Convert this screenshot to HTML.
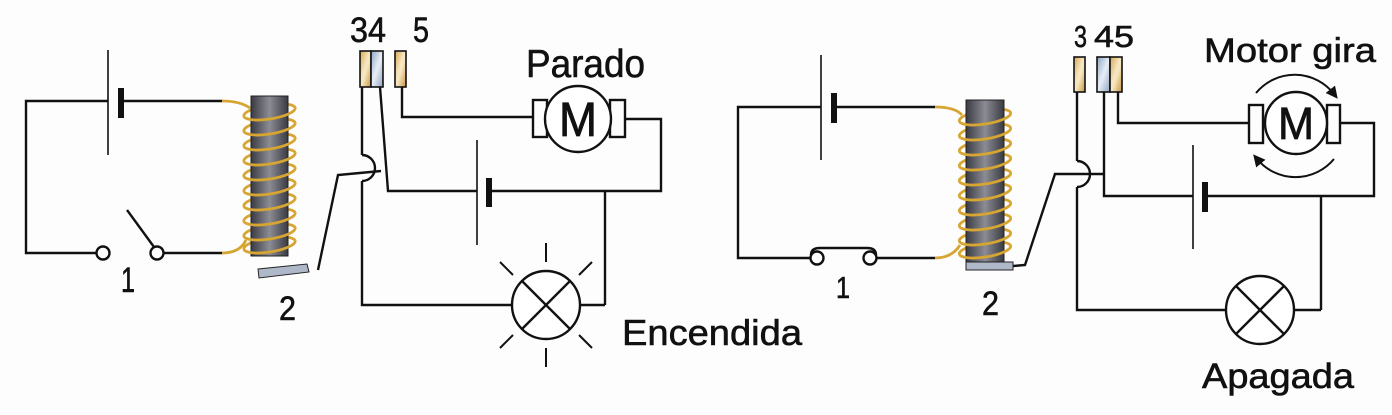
<!DOCTYPE html>
<html><head><meta charset="utf-8"><style>
html,body{margin:0;padding:0;background:#fdfdfd;}
svg{display:block}
text{font-family:"Liberation Sans",sans-serif;fill:#111;}
</style></head><body>
<svg width="1392" height="415" viewBox="0 0 1392 415" xmlns="http://www.w3.org/2000/svg">
<defs>
<linearGradient id="core" x1="0" x2="1" y1="0" y2="0">
<stop offset="0" stop-color="#3a3a42"/><stop offset="0.5" stop-color="#8c8c94"/><stop offset="1" stop-color="#3a3a42"/>
</linearGradient>
<linearGradient id="gold" x1="0" x2="1" y1="0" y2="1">
<stop offset="0" stop-color="#d9a650"/><stop offset="0.45" stop-color="#f6e6c0"/><stop offset="0.55" stop-color="#f6e6c0"/><stop offset="1" stop-color="#c89440"/>
</linearGradient>
<linearGradient id="blue" x1="0" x2="1" y1="0" y2="1">
<stop offset="0" stop-color="#8ea4c0"/><stop offset="0.5" stop-color="#e8eef6"/><stop offset="1" stop-color="#8ea4c0"/>
</linearGradient>
<g id="back"><path d="M -26 0 A 26 7 0 0 1 26 0" fill="none" stroke="#d6a532" stroke-width="2.8" transform="rotate(-9)"/></g>
<g id="front"><path d="M -26 0 A 26 7 0 0 0 26 0" fill="none" stroke="#d6a532" stroke-width="2.8" transform="rotate(-9)"/></g>
<marker id="ah" markerWidth="12" markerHeight="12" refX="6" refY="6" orient="auto" markerUnits="userSpaceOnUse">
<path d="M0 0 L12 6 L0 12 Z" fill="#111"/></marker>
</defs>

<g stroke="#111" stroke-width="2.4" fill="none">
<!-- LEFT DIAGRAM -->
<polyline points="108,101 26,101 26,253 96,253"/>
<line x1="108" y1="50" x2="108" y2="155" stroke-width="1.6"/>
<line x1="120" y1="101" x2="222" y2="101"/>
<line x1="164" y1="253" x2="222" y2="253"/>
<circle cx="103" cy="253" r="6.5" fill="#fff"/>
<circle cx="157" cy="253" r="6.5" fill="#fff"/>
<line x1="154" y1="247" x2="127" y2="210"/>
<polyline points="318,270 338,175 381,171"/>
<polyline points="362,87 362,155"/>
<path d="M362 155 A13 13 0 0 1 362 181"/>
<polyline points="362,181 362,305 512,305"/>
<polyline points="380,87 388,191 477,191"/>
<line x1="477" y1="140" x2="477" y2="245" stroke-width="1.6"/>
<polyline points="490,191 661,191 661,119 625,119"/>
<polyline points="402,87 402,117 533,117"/>
<line x1="605" y1="191" x2="605" y2="305"/>
<line x1="605" y1="305" x2="580" y2="305"/>
<rect x="533" y="100" width="14" height="37"/>
<rect x="610" y="100" width="15" height="37"/>
<circle cx="578" cy="119" r="33" fill="#fff"/>
<circle cx="546" cy="305" r="34" fill="#fff"/>
<line x1="522" y1="281" x2="570" y2="329"/><line x1="570" y1="281" x2="522" y2="329"/>
<g stroke-width="2">
<line x1="546" y1="243" x2="546" y2="262"/><line x1="546" y1="348" x2="546" y2="367"/>
<line x1="500" y1="262" x2="513" y2="275"/><line x1="592" y1="262" x2="579" y2="275"/>
<line x1="500" y1="348" x2="513" y2="335"/><line x1="592" y1="348" x2="579" y2="335"/>
</g>

<!-- RIGHT DIAGRAM -->
<polyline points="821,107 738,107 738,258 810,258"/>
<line x1="821" y1="55" x2="821" y2="160" stroke-width="1.6"/>
<line x1="834" y1="107" x2="935" y2="107"/>
<line x1="877" y1="258" x2="935" y2="258"/>
<circle cx="817" cy="258" r="6.5" fill="#fff"/>
<circle cx="870" cy="258" r="6.5" fill="#fff"/>
<path d="M811 255 Q 811 248 820 248 L 867 248 Q 876 248 876 255"/>
<polyline points="1013,266 1025,265 1055,174 1104,174"/>
<polyline points="1077,92 1077,161"/>
<path d="M1077 161 A13 13 0 0 1 1077 187"/>
<polyline points="1077,187 1077,310 1226,310"/>
<polyline points="1104,92 1104,196 1193,196"/>
<line x1="1193" y1="145" x2="1193" y2="249" stroke-width="1.6"/>
<polyline points="1206,196 1374,196 1374,123 1340,123"/>
<polyline points="1118,92 1118,123 1249,123"/>
<line x1="1321" y1="196" x2="1321" y2="310"/>
<line x1="1321" y1="310" x2="1294" y2="310"/>
<rect x="1249" y="105" width="14" height="38"/>
<rect x="1327" y="105" width="13" height="38"/>
<circle cx="1296" cy="123" r="31" fill="#fff"/>
<path d="M1256 93 A50 50 0 0 1 1334 94" stroke-width="2" marker-end="url(#ah)"/>
<path d="M1334 159 A50 50 0 0 1 1257 159" stroke-width="2" marker-end="url(#ah)"/>
<circle cx="1260" cy="310" r="34" fill="#fff"/>
<line x1="1236" y1="286" x2="1284" y2="334"/><line x1="1284" y1="286" x2="1236" y2="334"/>
</g>

<rect x="118" y="88" width="6" height="30" fill="#111"/>
<rect x="486" y="178" width="6" height="29" fill="#111"/>
<rect x="831" y="93" width="6" height="30" fill="#111"/>
<rect x="1202" y="182" width="6" height="30" fill="#111"/>

<!-- LEFT COIL -->
<path d="M222 101 Q240 101 250 108" stroke="#d6a532" stroke-width="2.8" fill="none"/>
<path d="M222 253 Q240 253 246 240" stroke="#d6a532" stroke-width="2.8" fill="none"/>
<g transform="translate(269.5,0)">
<use href="#back" y="112"/><use href="#back" y="127"/><use href="#back" y="142"/><use href="#back" y="157"/><use href="#back" y="172"/><use href="#back" y="187"/><use href="#back" y="202"/><use href="#back" y="217"/><use href="#back" y="232"/><use href="#back" y="245"/>
</g>
<rect x="251" y="96" width="37" height="160" fill="url(#core)" stroke="#222" stroke-width="1"/>
<g transform="translate(269.5,0)">
<use href="#front" y="112"/><use href="#front" y="127"/><use href="#front" y="142"/><use href="#front" y="157"/><use href="#front" y="172"/><use href="#front" y="187"/><use href="#front" y="202"/><use href="#front" y="217"/><use href="#front" y="232"/><use href="#front" y="245"/>
</g>
<polygon points="258,269 307,264 309,272 259,278" fill="#aeb8c8" stroke="#222" stroke-width="1"/>

<!-- RIGHT COIL -->
<path d="M935 107 Q955 107 962 115" stroke="#d6a532" stroke-width="2.8" fill="none"/>
<path d="M935 258 Q952 258 960 245" stroke="#d6a532" stroke-width="2.8" fill="none"/>
<g transform="translate(985,0)">
<use href="#back" y="117"/><use href="#back" y="132"/><use href="#back" y="147"/><use href="#back" y="162"/><use href="#back" y="177"/><use href="#back" y="192"/><use href="#back" y="207"/><use href="#back" y="222"/><use href="#back" y="237"/><use href="#back" y="250"/>
</g>
<rect x="966" y="100" width="38" height="162" fill="url(#core)" stroke="#222" stroke-width="1"/>
<g transform="translate(985,0)">
<use href="#front" y="117"/><use href="#front" y="132"/><use href="#front" y="147"/><use href="#front" y="162"/><use href="#front" y="177"/><use href="#front" y="192"/><use href="#front" y="207"/><use href="#front" y="222"/><use href="#front" y="237"/><use href="#front" y="250"/>
</g>
<rect x="966" y="262" width="47" height="8" fill="#aeb8c8" stroke="#222" stroke-width="1"/>

<g stroke="#111" stroke-width="1.6">
<rect x="360" y="51" width="11" height="36" fill="url(#gold)"/>
<rect x="371" y="51" width="12" height="36" fill="url(#blue)"/>
<rect x="395" y="51" width="11" height="36" fill="url(#gold)"/>
<rect x="1074" y="57" width="11" height="35" fill="url(#gold)"/>
<rect x="1097" y="57" width="13" height="35" fill="url(#blue)"/>
<rect x="1110" y="57" width="12" height="35" fill="url(#gold)"/>
</g>

<g stroke="#111" stroke-width="0.8">
<text x="578" y="136" font-size="48" text-anchor="middle" textLength="38" lengthAdjust="spacingAndGlyphs">M</text>
<text x="1296" y="139" font-size="45" text-anchor="middle" textLength="36" lengthAdjust="spacingAndGlyphs">M</text>
</g>
<g stroke="#111" stroke-width="0.6">
<text x="350" y="42" font-size="35" textLength="36" lengthAdjust="spacingAndGlyphs">34</text>
<text x="413" y="42" font-size="35" textLength="16" lengthAdjust="spacingAndGlyphs">5</text>
<text x="526" y="77" font-size="39" textLength="119" lengthAdjust="spacingAndGlyphs">Parado</text>
<text x="622" y="345" font-size="36" textLength="180" lengthAdjust="spacingAndGlyphs">Encendida</text>
<text x="121" y="292" font-size="35" textLength="14" lengthAdjust="spacingAndGlyphs">1</text>
<text x="279" y="320" font-size="34" textLength="17" lengthAdjust="spacingAndGlyphs">2</text>
<text x="836" y="298" font-size="31" textLength="14" lengthAdjust="spacingAndGlyphs">1</text>
<text x="982" y="315" font-size="34" textLength="17" lengthAdjust="spacingAndGlyphs">2</text>
<text x="1074" y="47" font-size="31" textLength="13" lengthAdjust="spacingAndGlyphs">3</text>
<text x="1094" y="47" font-size="31" textLength="40" lengthAdjust="spacingAndGlyphs">45</text>
<text x="1204" y="62" font-size="34" textLength="172" lengthAdjust="spacingAndGlyphs">Motor gira</text>
<text x="1202" y="388" font-size="35" textLength="152" lengthAdjust="spacingAndGlyphs">Apagada</text>
</g>
</svg>
</body></html>
